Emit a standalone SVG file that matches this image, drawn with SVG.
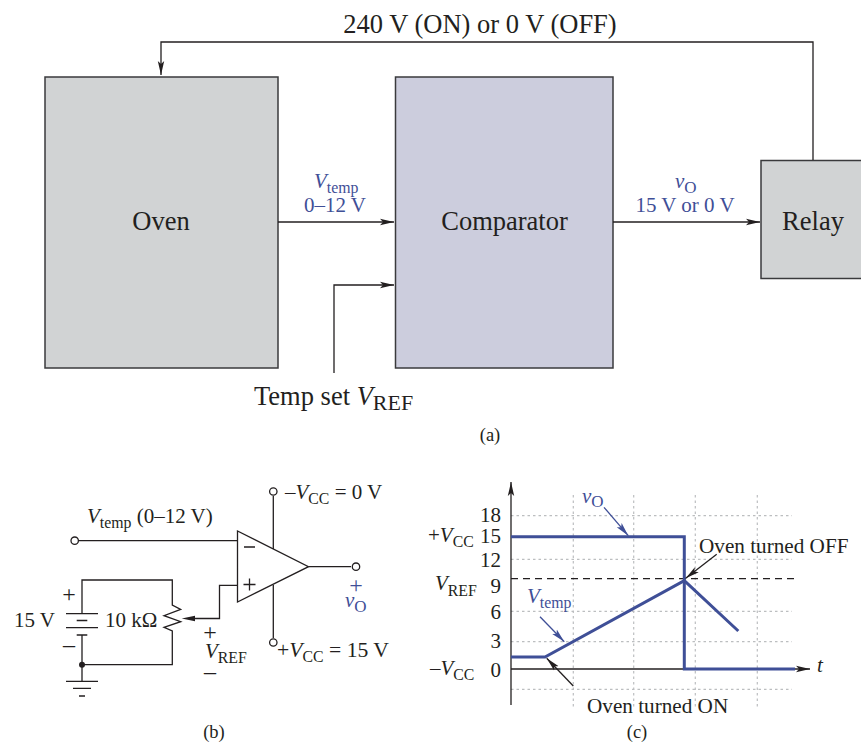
<svg xmlns="http://www.w3.org/2000/svg" width="861" height="743" viewBox="0 0 861 743">
<style>
text{font-family:"Liberation Serif","Times New Roman",serif;fill:#231f20;font-size:21px}
.b{font-size:26.500px}
.s{font-size:15.800px}
.c{font-size:18.500px}
.p{font-size:24px}
.blue,.blue tspan{fill:#3f4f97}
.i{font-style:italic}
.m{text-anchor:middle}
.e{text-anchor:end}
.box{stroke:#3a3a3c;stroke-width:1.500}
.w{fill:none;stroke:#231f20;stroke-width:1.300}
.g{fill:none;stroke:#bcbec0;stroke-width:1.200;stroke-dasharray:2.500 3}
.h{fill:none;stroke:#3f4f97;stroke-width:3}
.o{fill:#fff;stroke:#231f20;stroke-width:1.300}
</style>
<defs>
<marker id="a" markerUnits="userSpaceOnUse" markerWidth="14" markerHeight="8" refX="14" refY="4" orient="auto"><path d="M0 0.800L14 4L0 7.200L3 4Z" fill="#231f20"/></marker>
<marker id="ab" markerUnits="userSpaceOnUse" markerWidth="14" markerHeight="8" refX="14" refY="4" orient="auto"><path d="M0 0.800L14 4L0 7.200L3 4Z" fill="#3f4f97"/></marker>
</defs>

<g id="oven"><rect class="box" x="45" y="77" width="233" height="291" fill="#d1d3d4"/><text class="b m" x="161" y="230">Oven</text></g>
<g id="comparator"><rect class="box" x="395.500" y="77" width="217.500" height="291" fill="#cccddd"/><text class="b m" x="504.500" y="230">Comparator</text></g>
<g id="relay"><rect class="box" x="761" y="160.500" width="101" height="118" fill="#d1d3d4"/><text class="b m" x="813" y="230">Relay</text></g>

<g id="connectors">
<path class="w" d="M813 160V42H161V75" marker-end="url(#a)"/>
<path class="w" d="M278 222H394" marker-end="url(#a)"/>
<path class="w" d="M334 373V285H394" marker-end="url(#a)"/>
<path class="w" d="M613 222H760" marker-end="url(#a)"/>
</g>
<g id="labels-a">
<text class="b m" x="480" y="33">240 V (ON) or 0 V (OFF)</text>
<text class="blue" x="314" y="188"><tspan class="i">V</tspan><tspan class="s" dy="4.500">temp</tspan></text>
<text class="m blue" x="335" y="212">0–12 V</text>
<text class="blue" x="675" y="188"><tspan class="i">v</tspan><tspan class="s" dy="4.500" style="font-size:17px">O</tspan></text>
<text class="m blue" x="685" y="212">15 V or 0 V</text>
<text x="254" y="405" style="font-size:26.500px">Temp set <tspan class="i">V</tspan><tspan dy="5" style="font-size:22px">REF</tspan></text>
<text class="c m" x="490" y="441">(a)</text>
</g>

<g id="opamp">
<path class="o" d="M237.500 531V602L308.500 566.700Z"/>
<path class="w" d="M79 540.700H237.500M273.300 496V549M273.300 585V638M308.500 566.700H351M237.500 585.300H219.500V618.500H190"/>
<path d="M181.700 618.500L195 615.800V621.200Z" fill="#231f20"/>
<path class="w" d="M244 547H255M243.500 584.500H255.500M249.500 578.500V590.500"/>
<circle class="o" cx="74.700" cy="540.700" r="3.700"/><circle class="o" cx="273.300" cy="491.500" r="3.700"/><circle class="o" cx="273.300" cy="642.500" r="3.700"/><circle class="o" cx="356" cy="566.700" r="3.700"/>
</g>
<g id="source">
<path class="w" d="M82 613.700V580H172.300V605L180.700 609.300L164 615.700L180.700 621.700L164 627.300L172.300 631V635V664.700H82V635M82 664.700V681M66 613.700H98M76.700 620.500H87.300M66 627.700H98M76.700 635H87.300M66 681.300H98M73 688.300H91M79 696H85"/>
<circle cx="82" cy="664.700" r="3" fill="#231f20"/>
</g>
<g id="labels-b">
<text x="87" y="523"><tspan class="i">V</tspan><tspan class="s" dy="4.500">temp</tspan><tspan dy="-4.500"> (0–12 V)</tspan></text>
<text x="285" y="499">–<tspan class="i">V</tspan><tspan class="s" dy="4.500">CC</tspan><tspan dy="-4.500"> = 0 V</tspan></text>
<text x="277" y="657" style="font-size:21.700px">+<tspan class="i">V</tspan><tspan class="s" dy="4.500">CC</tspan><tspan dy="-4.500"> = 15 V</tspan></text>
<text x="14" y="627">15 V</text>
<text x="105" y="627">10 kΩ</text>
<text class="p m" x="69" y="602">+</text><text class="p m" x="69" y="652">–</text>
<text class="p m" x="210" y="640">+</text>
<text x="205" y="658"><tspan class="i">V</tspan><tspan class="s" dy="4.500">REF</tspan></text>
<text class="p m" x="210" y="679">–</text>
<text class="p m blue" x="356" y="593">+</text>
<text class="blue" x="345" y="607"><tspan class="i">v</tspan><tspan class="s" dy="4.500" style="font-size:17px">O</tspan></text>
<text class="c m" x="214" y="738">(b)</text>
</g>

<g id="chart">
<path class="g" d="M511 515.700H792M511 559.300H792M511 611.300H792M511 641.700H792M511 689.300H792M573.300 495V708M633.700 495V708M695.300 495V708M757.300 495V708"/>
<path class="w" d="M511 705V482" marker-end="url(#a)"/>
<path class="w" d="M511 669H810" marker-end="url(#a)"/>
<path fill="none" stroke="#231f20" stroke-width="1.300" stroke-dasharray="7 5" d="M511 578.700H797"/>
<path class="h" d="M511 536.700H684.300V669H795"/>
<path class="h" d="M511 657H545L684.300 580.700L738.300 631"/>
<path fill="none" stroke="#3f4f97" stroke-width="1.300" d="M604 507.300L628.300 535.700" marker-end="url(#ab)"/>
<path fill="none" stroke="#3f4f97" stroke-width="1.300" d="M540 616.700L564.300 641.700" marker-end="url(#ab)"/>
<path class="w" d="M573.300 686L546.700 658.300" marker-end="url(#a)"/>
<path class="w" d="M716.700 554.300L685.700 578.300" marker-end="url(#a)"/>
</g>
<g id="labels-c">
<text class="e" x="501" y="522">18</text>
<text class="e" x="501" y="543">15</text>
<text class="e" x="501" y="566.500">12</text>
<text class="e" x="501" y="593">9</text>
<text class="e" x="501" y="619">6</text>
<text class="e" x="501" y="648">3</text>
<text class="e" x="501" y="677">0</text>
<text x="428" y="542">+<tspan class="i">V</tspan><tspan class="s" dy="4.500">CC</tspan></text>
<text x="435" y="590"><tspan class="i">V</tspan><tspan class="s" dy="5.500">REF</tspan></text>
<text x="430" y="675">–<tspan class="i">V</tspan><tspan class="s" dy="5">CC</tspan></text>
<text class="blue" x="582" y="502.500"><tspan class="i">v</tspan><tspan class="s" dy="4" style="font-size:17px">O</tspan></text>
<text class="blue" x="527" y="602.500"><tspan class="i">V</tspan><tspan class="s" dy="5">temp</tspan></text>
<text x="699" y="552.500" style="font-size:21.200px">Oven turned OFF</text>
<text x="587" y="713" style="font-size:21.200px">Oven turned ON</text>
<text class="i" x="817" y="672">t</text>
<text class="c m" x="637" y="738">(c)</text>
</g>
</svg>
